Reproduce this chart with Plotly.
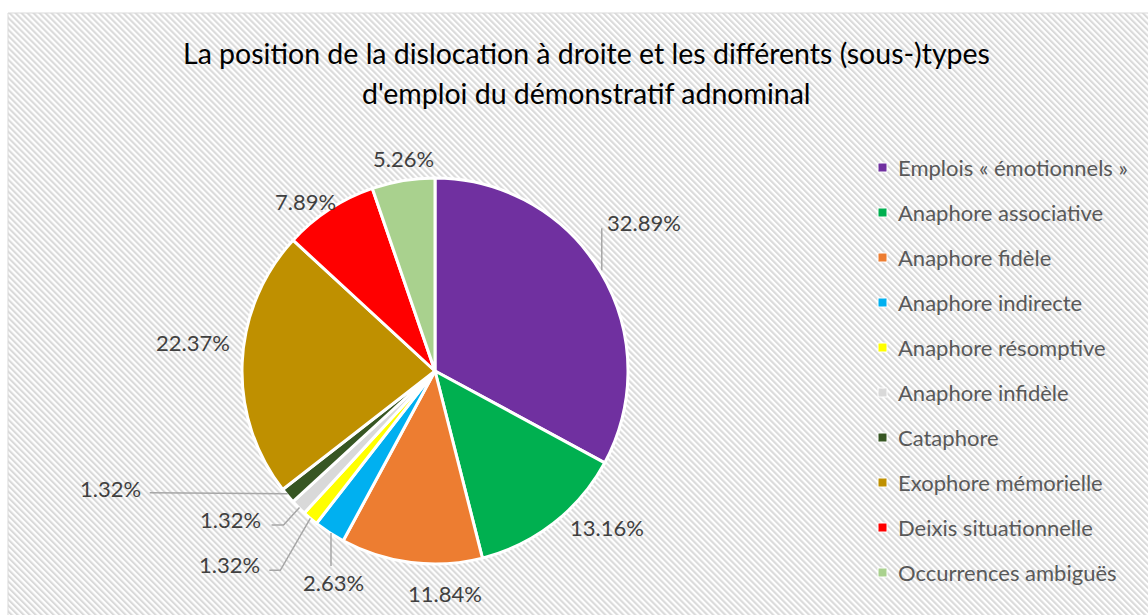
import math
import base64
import plotly.graph_objects as go

# ---- data -------------------------------------------------------------
categories = [
    "Emplois « émotionnels »",
    "Anaphore associative",
    "Anaphore fidèle",
    "Anaphore indirecte",
    "Anaphore résomptive",
    "Anaphore infidèle",
    "Cataphore",
    "Exophore mémorielle",
    "Deixis situationnelle",
    "Occurrences ambiguës",
]
shares = [32.89, 13.16, 11.84, 2.63, 1.32, 1.32, 1.32, 22.37, 7.89, 5.26]
colors = [
    "#7030A0", "#00B050", "#ED7D31", "#00B0F0", "#FFFF00",
    "#D9D9D9", "#375623", "#BF9000", "#FF0000", "#A9D18E",
]
title_lines = [
    "La position de la dislocation à droite et les différents (sous-)types",
    "d'emploi du démonstratif adnominal",
]

# ---- layout constants (pixels) -------------------------------------
W, H = 1148, 615
CX, CY, R = 435, 371, 193          # pie centre and radius
FONT = "Lato"


def px(x):
    return x / W


def py(y):
    return 1 - y / H


# label placement relative to the outer midpoint of each slice: (dx, dy, xanchor)
label_place = [
    (4, -50, "left"),
    (53, 4, "center"),
    (34, 31, "center"),
    (4, 50, "center"),
    (-48, 46, "right"),
    (-36, 12.5, "right"),
    (-145, -7, "right"),
    (-49, -20, "center"),
    (-24, -8, "center"),
    (0, -22, "center"),
]
# leader-line vertices relative to the same outer midpoint
leaders = {
    0: [(1, -2), (1, -44)],
    3: [(1.5, 0.5), (1.5, 33.5)],
    4: [(0, 0), (-30, 52), (-41, 52)],
    5: [(1, 0), (-15, 17.5), (-27, 17.5)],
    6: [(0, -2), (-138, -3)],
}

fig = go.Figure()

fig.add_trace(go.Pie(
    labels=categories,
    values=shares,
    sort=False,
    direction="clockwise",
    rotation=0,
    marker=dict(colors=colors, line=dict(color="white", width=3)),
    textinfo="none",
    hovertemplate="%{label}: %{value:.2f}%<extra></extra>",
    showlegend=False,
    domain=dict(x=[px(CX - R), px(CX + R)], y=[py(CY + R), py(CY - R)]),
))

shapes = []
annotations = []

# data labels and leader lines, positioned from each slice's mid angle
total = sum(shares)
cum = 0.0
for i, v in enumerate(shares):
    mid = (cum + v / 2) / total
    cum += v
    theta = 2 * math.pi * mid
    ex = CX + R * math.sin(theta)
    ey = CY - R * math.cos(theta)
    dx, dy, anchor = label_place[i]
    annotations.append(dict(
        x=px(ex + dx), y=py(ey + dy), xref="paper", yref="paper",
        text=f"{v:.2f}%", showarrow=False, xanchor=anchor, yanchor="middle",
        font=dict(family=FONT, size=22, color="#404040"),
    ))
    if i in leaders:
        pts = leaders[i]
        path = "M " + " L ".join(f"{px(ex + a)},{py(ey + b)}" for a, b in pts)
        shapes.append(dict(
            type="path", path=path, xref="paper", yref="paper",
            line=dict(color="#A6A6A6", width=1.5),
        ))

# legend: colour squares with category names
for i, (name, col) in enumerate(zip(categories, colors)):
    yc = 167.5 + 45 * i
    shapes.append(dict(
        type="rect", xref="paper", yref="paper",
        x0=px(878), x1=px(887), y0=py(yc + 4.5), y1=py(yc - 4.5),
        fillcolor=col, line=dict(color="white", width=1),
    ))
    annotations.append(dict(
        x=px(896), y=py(yc), xref="paper", yref="paper",
        text=name, showarrow=False, xanchor="left", yanchor="middle",
        font=dict(family=FONT, size=22, color="#595959"),
    ))

# title, two centred lines
for j, line in enumerate(title_lines):
    annotations.append(dict(
        x=px(586), y=py(53 + 40 * j), xref="paper", yref="paper",
        text=line, showarrow=False, xanchor="center", yanchor="middle",
        font=dict(family=FONT, size=28.5, color="#000000"),
    ))

# chart-area border
shapes.append(dict(
    type="rect", xref="paper", yref="paper",
    x0=px(8), x1=1.02, y0=-0.02, y1=py(13),
    line=dict(color="#D9D9D9", width=1), fillcolor="rgba(0,0,0,0)",
))

# diagonal hatch filling the chart area
bw, bh = W - 8, H - 13
hatch = (
    f'<svg xmlns="http://www.w3.org/2000/svg" width="{bw}" height="{bh}" '
    f'viewBox="0 0 {bw} {bh}" preserveAspectRatio="none">'
    '<defs><pattern id="h" width="4.24" height="4.24" patternUnits="userSpaceOnUse" '
    'patternTransform="rotate(-45)">'
    '<rect width="4.24" height="4.24" fill="#FFFFFF"/>'
    '<rect width="2.1" height="4.24" fill="#DADADA"/>'
    '</pattern></defs>'
    f'<rect width="{bw}" height="{bh}" fill="url(#h)"/></svg>'
)
hatch_uri = "data:image/svg+xml;base64," + base64.b64encode(hatch.encode()).decode()

fig.update_layout(
    width=W, height=H,
    margin=dict(l=0, r=0, t=0, b=0),
    paper_bgcolor="white",
    plot_bgcolor="rgba(0,0,0,0)",
    showlegend=False,
    shapes=shapes,
    annotations=annotations,
    images=[dict(
        source=hatch_uri, xref="paper", yref="paper",
        x=px(8), y=py(13), sizex=bw / W, sizey=bh / H,
        xanchor="left", yanchor="top", sizing="stretch", layer="below",
    )],
)

fig.write_html("out.html")
